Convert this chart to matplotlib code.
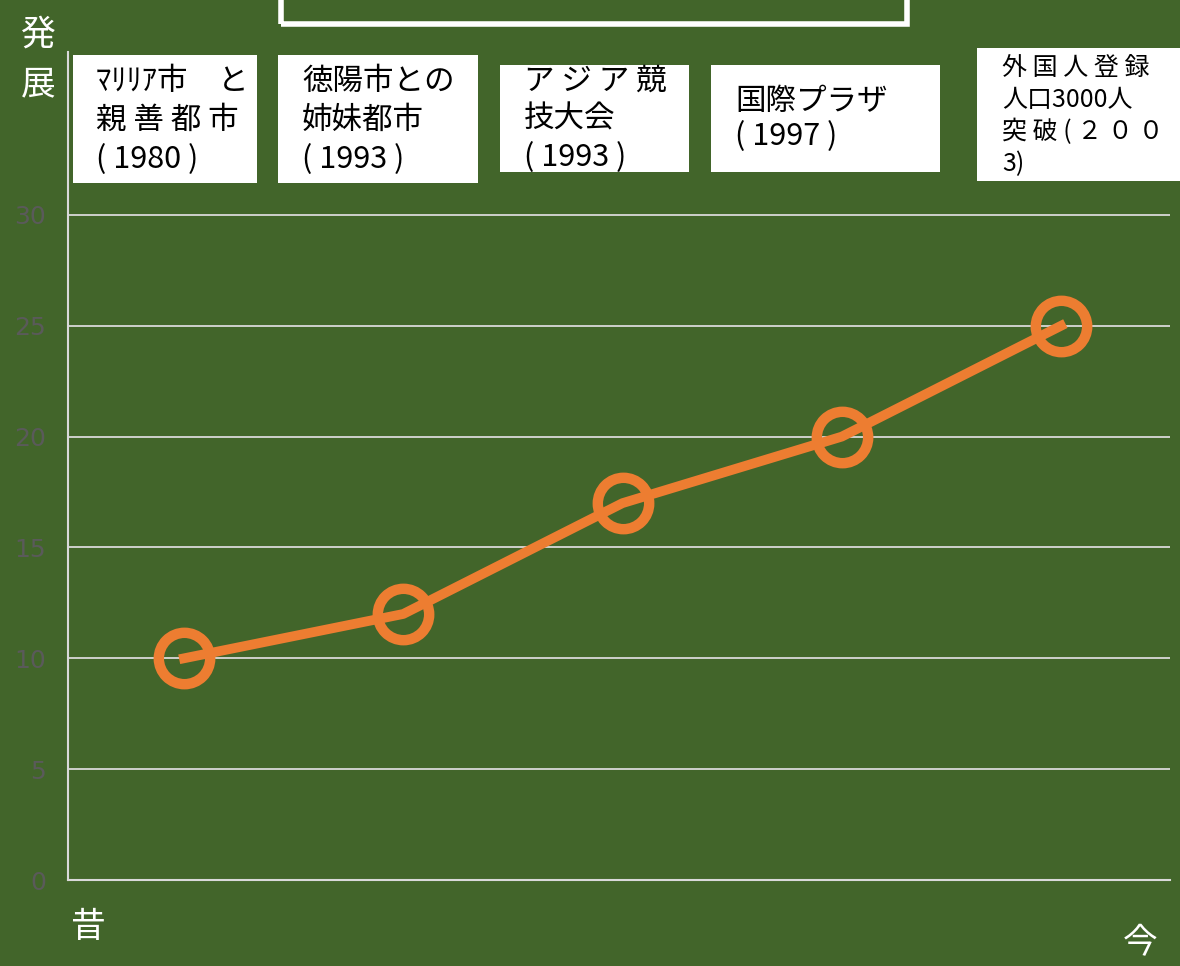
import matplotlib
matplotlib.use('Agg')
import matplotlib.pyplot as plt
from matplotlib.patches import Rectangle

plt.rcParams['font.family'] = ['Noto Sans CJK JP', 'DejaVu Sans']

# data
steps = [0, 1, 2, 3, 4]
values = [10, 12, 17, 20, 25]
yticks = [0, 5, 10, 15, 20, 25, 30]
events = [['ﾏﾘﾘｱ市　と', '親 善 都 市', '( 1980 )'],
          ['徳陽市との', '姉妹都市', '( 1993 )'],
          ['ア ジ ア 競', '技大会', '( 1993 )'],
          ['国際プラザ', '( 1997 )'],
          ['外 国 人 登 録', '人口3000人', '突 破 ( ２ ０ ０', '3)']]

bg = '#42652a'
orange = '#ed7d31'
W, H = 1180, 966

fig = plt.figure(figsize=(W / 100, H / 100), dpi=100, facecolor=bg)

def fx(px):
    return px / W

def fy(py):
    return 1 - py / H

ax = fig.add_axes([fx(68), fy(880), fx(1170) - fx(68), fy(52) - fy(880)])
ax.set_facecolor(bg)
ax.plot(steps, values, color=orange, lw=7, marker='o', ms=37,
        mfc='none', mec=orange, mew=7.5, zorder=3)
ax.set_xlim(-0.529, 4.497)
ax.set_ylim(0, 37.35)
ax.set_yticks(yticks)
ax.set_xticks([])
ax.tick_params(axis='y', length=0, pad=16, labelsize=18, labelcolor='#5a5a5a')
for lab in ax.get_yticklabels():
    lab.set_family('DejaVu Sans')
ax.grid(axis='y', color='#d9d9d9', lw=1.3)
for s in ['top', 'right']:
    ax.spines[s].set_visible(False)
for s in ['left', 'bottom']:
    ax.spines[s].set_color('#d9d9d9')
    ax.spines[s].set_linewidth(1.5)

# empty title frame
fig.patches.append(Rectangle((fx(281), fy(24)), fx(907) - fx(281), fy(-10) - fy(24),
                             transform=fig.transFigure, fill=False,
                             ec='white', lw=4, figure=fig))

# event boxes: (left, top, right, bottom, text x, first line y, line step, size)
boxes = [(73, 55, 257, 183, 96, 78, 39, 22),
         (278, 55, 478, 183, 302, 78, 39, 22),
         (500, 65, 689, 172, 524, 78, 38, 22),
         (711, 65, 940, 172, 735, 98, 35, 22),
         (977, 48, 1182, 181, 1002, 65, 32, 18)]
for (l, t, r, b, tx, ty, step, sz), lines in zip(boxes, events):
    fig.patches.append(Rectangle((fx(l), fy(b)), fx(r) - fx(l), fy(t) - fy(b),
                                 transform=fig.transFigure, fc='white',
                                 ec='none', figure=fig, zorder=5))
    for i, line in enumerate(lines):
        fig.text(fx(tx), fy(ty + i * step), line, ha='left', va='center_baseline',
                 fontsize=sz, color='black', zorder=6)

fig.text(fx(38), fy(35), '発', ha='center', va='center', fontsize=25, color='white')
fig.text(fx(38), fy(85), '展', ha='center', va='center', fontsize=25, color='white')
fig.text(fx(88), fy(928), '昔', ha='center', va='center', fontsize=25, color='white')
fig.text(fx(1140), fy(944), '今', ha='center', va='center', fontsize=25, color='white')

fig.savefig('out.png', dpi=100, facecolor=bg)
